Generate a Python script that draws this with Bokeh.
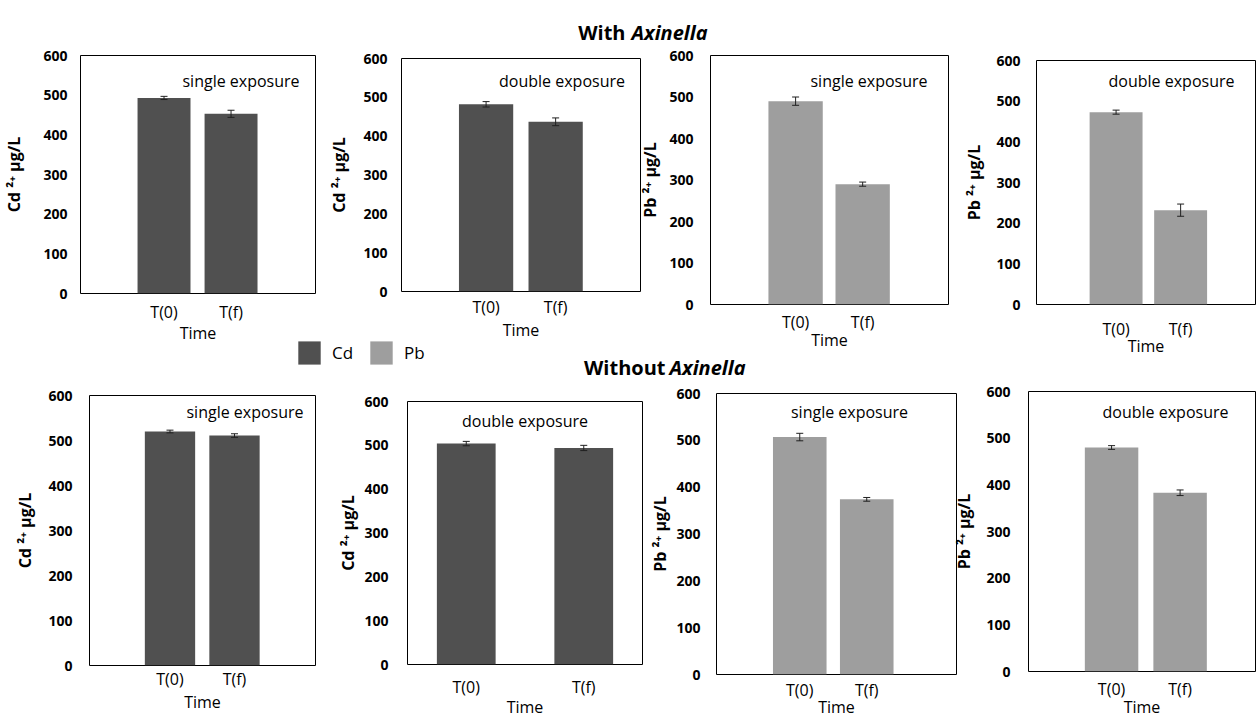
from bokeh.plotting import figure
from bokeh.layouts import column
from bokeh.models import (Range1d, FixedTicker, ColumnDataSource, Whisker, TeeHead,
                          Legend, LegendItem, GridBox)
from bokeh.core.properties import value
from bokeh.embed import file_html
from bokeh.resources import INLINE

# ---------------- data ----------------
times = ["T(0)", "T(f)"]
y_ticks = [0, 100, 200, 300, 400, 500, 600]
metals = ["Cd", "Pb"]
exposures = ["single exposure", "double exposure"]
groups = ["With", "Without"]
genus = "Axinella"

with_cd_single = [493, 453]
with_cd_single_err = [4, 9]
with_cd_double = [482, 437]
with_cd_double_err = [7, 10]
with_pb_single = [490, 290]
with_pb_single_err = [10, 5]
with_pb_double = [473, 232]
with_pb_double_err = [5, 15]

without_cd_single = [520, 511]
without_cd_single_err = [3, 4]
without_cd_double = [504, 494]
without_cd_double_err = [5, 6]
without_pb_single = [507, 374]
without_pb_single_err = [8, 4]
without_pb_double = [480, 383]
without_pb_double_err = [4, 6]

# ---------------- styles / layout ----------------
FONT = "Open Sans"
W, H = 1256, 720
metal_colors = {"Cd": "#505050", "Pb": "#9e9e9e"}

panels = [
    ("Cd", exposures[0], with_cd_single, with_cd_single_err),
    ("Cd", exposures[1], with_cd_double, with_cd_double_err),
    ("Pb", exposures[0], with_pb_single, with_pb_single_err),
    ("Pb", exposures[1], with_pb_double, with_pb_double_err),
    ("Cd", exposures[0], without_cd_single, without_cd_single_err),
    ("Cd", exposures[1], without_cd_double, without_cd_double_err),
    ("Pb", exposures[0], without_pb_single, without_pb_single_err),
    ("Pb", exposures[1], without_pb_double, without_pb_double_err),
]

# frame (L, R, T, B) in px, x range, bar width, y tick standoff, y label standoff,
# x tick standoff, x label standoff, caption centre (px)
layouts = [
    dict(frame=(80, 315, 55, 293), xr=(-0.746, 2.76), bw=0.79, yls=13, yas=15, xls=7, xas=-4, tc=(240.5, 80)),
    dict(frame=(401, 640, 58, 291), xr=(-0.716, 2.72), bw=0.78, yls=14, yas=10, xls=4, xas=-2, tc=(561.5, 80)),
    dict(frame=(710, 948, 55, 304), xr=(-0.769, 2.78), bw=0.81, yls=17, yas=5, xls=6, xas=-7, tc=(868.5, 80)),
    dict(frame=(1036, 1255, 60, 304), xr=(-0.733, 2.66), bw=0.82, yls=16, yas=8, xls=13, xas=-8, tc=(1171, 80)),
    dict(frame=(89, 315, 395, 665), xr=(-0.748, 2.756), bw=0.78, yls=17, yas=9, xls=2, xas=-2, tc=(244.5, 411.5)),
    dict(frame=(407, 642, 401, 666), xr=(0.0, 2.0), bw=0.5, yls=19, yas=2, xls=11, xas=-5, tc=(524.5, 420.5)),
    dict(frame=(716, 956, 393, 676), xr=(-0.743, 2.84), bw=0.8, yls=16, yas=2, xls=4, xas=-8, tc=(849, 411.5)),
    dict(frame=(1028, 1255, 391, 672), xr=(-0.712, 2.6), bw=0.78, yls=18, yas=8, xls=6, xas=-7, tc=(1165, 411)),
]


def make_panel(metal, vals, errs, lay):
    L, R, T, B = lay["frame"]
    p = figure(width=W, height=H, output_backend="svg", toolbar_location=None,
               x_range=Range1d(*lay["xr"]), y_range=Range1d(0, 600),
               min_border_left=L, min_border_right=W - R,
               min_border_top=T, min_border_bottom=H - B)
    p.background_fill_alpha = 0
    p.border_fill_alpha = 0
    p.outline_line_color = "black"
    p.outline_line_width = 1
    p.outline_line_alpha = 1
    p.grid.grid_line_color = None

    xs = [i + 0.5 for i in range(len(times))]
    src = ColumnDataSource(dict(
        x=xs, top=vals,
        upper=[v + e for v, e in zip(vals, errs)],
        lower=[v - e for v, e in zip(vals, errs)],
    ))
    p.vbar(x="x", top="top", width=lay["bw"], source=src,
           fill_color=metal_colors[metal], line_color=None)
    wh = Whisker(source=src, base="x", upper="upper", lower="lower",
                 line_color="#202020", line_width=1, level="overlay",
                 upper_head=TeeHead(size=7, line_color="#202020", line_width=1),
                 lower_head=TeeHead(size=7, line_color="#202020", line_width=1))
    p.add_layout(wh)

    for ax in p.axis:
        ax.axis_line_color = None
        ax.major_tick_line_color = None
        ax.minor_tick_line_color = None
        ax.major_tick_out = 0
        ax.major_tick_in = 0
        ax.major_label_text_font = FONT
        ax.axis_label_text_font = FONT
        ax.major_label_text_color = "black"
        ax.axis_label_text_color = "black"

    p.xaxis.ticker = FixedTicker(ticks=xs)
    p.xaxis.major_label_overrides = {x: t for x, t in zip(xs, times)}
    p.xaxis.major_label_text_font_size = "16px"
    p.xaxis.major_label_standoff = lay["xls"]
    p.xaxis.axis_label = "Time"
    p.xaxis.axis_label_text_font_style = "normal"
    p.xaxis.axis_label_text_font_size = "16px"
    p.xaxis.axis_label_standoff = lay["xas"]

    p.yaxis.ticker = FixedTicker(ticks=y_ticks)
    p.yaxis.major_label_text_font_style = "bold"
    p.yaxis.major_label_text_font_size = "14px"
    p.yaxis.major_label_standoff = lay["yls"]
    p.yaxis.axis_label = f"{metal} \u00b2\u207a \u00b5g/L"
    p.yaxis.axis_label_text_font_style = "bold"
    p.yaxis.axis_label_text_font_size = "16px"
    p.yaxis.axis_label_standoff = lay["yas"]
    return p


figs = [make_panel(metal, vals, errs, lay)
        for (metal, expo, vals, errs), lay in zip(panels, layouts)]

# overlay figure (frame = whole canvas) for group titles, panel captions and legend
ov = figure(width=W, height=H, output_backend="svg", toolbar_location=None,
            x_range=Range1d(0, W), y_range=Range1d(H, 0),
            x_axis_type=None, y_axis_type=None, min_border=0,
            min_border_left=0, min_border_right=0, min_border_top=0, min_border_bottom=0)
ov.background_fill_alpha = 0
ov.border_fill_alpha = 0
ov.outline_line_color = None
ov.grid.grid_line_color = None

title_pos = [(625, 631, 31.5), (665, 669, 367)]   # (right of group word, left of genus, baseline)
for g, (xr_, xl_, yb) in zip(groups, title_pos):
    ov.text(x=[xr_], y=[yb], text=[g], text_font=value(FONT), text_font_style="bold",
            text_font_size="20px", text_align="right", text_baseline="alphabetic",
            text_color="black")
    ov.text(x=[xl_], y=[yb], text=[genus], text_font=value(FONT), text_font_style="bold italic",
            text_font_size="20px", text_align="left", text_baseline="alphabetic",
            text_color="black")

ov.text(x=[lay["tc"][0] for lay in layouts],
        y=[lay["tc"][1] for lay in layouts],
        text=[pn[1] for pn in panels],
        text_font=value(FONT), text_font_size="16px", text_align="center",
        text_baseline="middle", text_color="black")

# legend: proxy renderers (NaN, never drawn) that only provide the swatch colours
legend_left = {"Cd": 295, "Pb": 367}
legend_bottom = 367
for m in metals:
    proxy = ov.vbar(x=[float("nan")], top=[float("nan")], width=1,
                    fill_color=metal_colors[m], line_color=None)
    lg = Legend(items=[LegendItem(label=m, renderers=[proxy])],
                location=(legend_left[m], H - legend_bottom),
                glyph_width=28, glyph_height=29, label_standoff=9,
                padding=0, margin=0, border_line_color=None, background_fill_alpha=0,
                label_text_font=FONT, label_text_font_size="17px", label_text_color="black")
    ov.add_layout(lg)

# every figure is wrapped in its own column so that the grid does not align their frames
layout = GridBox(children=[(column(f), 0, 0) for f in figs + [ov]])

open("out.html", "w").write(file_html(layout, INLINE))
